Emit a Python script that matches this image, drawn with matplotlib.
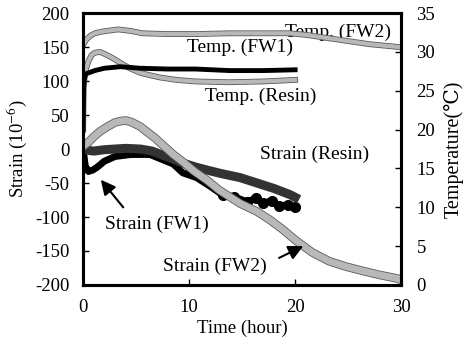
import matplotlib
matplotlib.use("Agg")
import matplotlib.pyplot as plt
import matplotlib.patheffects as pe

plt.rcParams['font.family'] = ['Liberation Serif', 'DejaVu Serif']
plt.rcParams['mathtext.fontset'] = 'stix'
plt.rcParams['axes.unicode_minus'] = False
plt.rcParams['font.size'] = 14

# temperatures (deg C) on the right axis
t_fw2_temp = [0, 0.3, 0.7, 1.1, 1.7, 2.2, 3.3, 4.5, 5.6, 8, 10.6, 13.8, 17, 19.5, 21, 22.5, 24, 25.5, 27, 28.5, 30]
fw2_temp = [30.9, 31.6, 32.1, 32.4, 32.6, 32.7, 32.9, 32.7, 32.4, 32.3, 32.3, 32.4, 32.4, 32.4, 32.2, 31.9, 31.6, 31.3, 31.0, 30.8, 30.6]

t_fw1_temp = [0, 0.05, 0.2, 0.5, 0.8, 1.1, 1.6, 2.1, 2.8, 3.5, 4.4, 5.4, 6.3, 7.3, 8.8, 10.6, 13.8, 17, 20]
fw1_temp = [20.0, 25.5, 27.5, 28.8, 29.6, 29.9, 30.0, 29.7, 29.2, 28.6, 27.9, 27.3, 27.0, 26.7, 26.4, 26.2, 26.1, 26.2, 26.4]

t_res_temp = [0, 0.05, 0.15, 0.3, 0.7, 1.1, 2, 3.5, 5.4, 8, 10.6, 13.8, 17, 20]
res_temp = [20.0, 25.5, 26.8, 27.2, 27.4, 27.6, 27.9, 28.1, 27.9, 27.8, 27.8, 27.6, 27.6, 27.7]

# strains (1e-6) on the left axis
t_fw2 = [0, 0.5, 1.0, 1.6, 2.3, 3.0, 3.5, 4.0, 4.5, 4.9, 5.4, 5.8, 6.8, 7.5, 8.5, 9.5, 10.5, 11.7, 12.8,
         14.8, 16.4, 17.6, 18.8, 20.1, 21.6, 23.2, 24.8, 26.3, 27.9, 29.8, 30]
s_fw2 = [4, 10, 18, 26, 33, 39, 41, 42, 40, 37, 33, 28, 16, 6, -8, -20, -33, -46, -60,
         -80, -92, -104, -118, -135, -152, -165, -173, -179, -185, -191, -193]

t_res = [0, 0.5, 1, 2, 3, 4, 5.4, 6.5, 7.5, 8.5, 9.5, 10.5, 11.7, 13, 14.8, 16.4, 18, 19.5, 20]
s_res = [0, -2, -3, -1, 0, 1, 0, -3, -9, -15, -21, -26, -31, -36, -42, -50, -58, -67, -71]

t_fw1 = [0, 0.2, 0.5, 0.9, 1.3, 2, 3, 4.5, 6.3, 8.5, 9.4, 10.7, 12, 13.2, 14.2, 15.5, 16.3, 17, 17.8, 18.5, 19.3, 20]
s_fw1 = [0, -25, -33, -31, -27, -18, -11, -8, -8, -22, -35, -42, -55, -68, -70, -78, -72, -80, -76, -84, -82, -86]

fig = plt.figure(figsize=(4.67, 3.54), dpi=100)
ax = fig.add_axes([0.178, 0.195, 0.681, 0.768])
ax2 = ax.twinx()


def grey_line(a, x, y, lw):
    a.plot(x, y, color='#b8b8b8', lw=lw, solid_joinstyle='round',
           path_effects=[pe.Stroke(linewidth=lw + 1.2, foreground='#5a5a5a'), pe.Normal()])


ax.plot(t_fw1, s_fw1, color='black', lw=5, solid_joinstyle='round')
ax.plot(t_fw1[13:], s_fw1[13:], 'o', color='black', ms=7)
ax.plot(t_res, s_res, color='#333333', lw=6.5, solid_joinstyle='round')
grey_line(ax, t_fw2, s_fw2, 5)

grey_line(ax2, t_fw2_temp, fw2_temp, 3)
grey_line(ax2, t_fw1_temp, fw1_temp, 3)
ax2.plot(t_res_temp, res_temp, color='black', lw=3.5)

ax.set_xlim(0, 30)
ax.set_ylim(-200, 200)
ax2.set_ylim(0, 35)
ax.set_xticks([0, 10, 20, 30])
ax.set_yticks(range(-200, 201, 50))
ax2.set_yticks(range(0, 36, 5))

ax.tick_params(axis='y', direction='in', length=4, width=1, pad=10, labelsize=13.5)
ax.tick_params(axis='x', direction='in', length=4, width=1, pad=10, labelsize=13.5)
ax2.tick_params(direction='in', length=4, width=1, pad=11, labelsize=13.5)
for a in (ax, ax2):
    for sp in a.spines.values():
        sp.set_linewidth(2.2)

ax.set_xlabel('Time (hour)', fontsize=13.5, labelpad=3)
ax.set_ylabel('Strain (10$^{-6}$)', fontsize=13.5, labelpad=4)
ax2.set_ylabel('Temperature(\u2103)', fontsize=14.5, labelpad=6)

ax.text(19.0, 171, 'Temp. (FW2)', va='center', ha='left')
ax.text(9.8, 149, 'Temp. (FW1)', va='center', ha='left')
ax.text(11.5, 77, 'Temp. (Resin)', va='center', ha='left')
ax.text(16.7, -8, 'Strain (Resin)', va='center', ha='left')
ax.text(2.07, -111, 'Strain (FW1)', va='center', ha='left')
ax.text(7.5, -172, 'Strain (FW2)', va='center', ha='left')

ax.annotate('', xy=(1.5, -42), xytext=(3.95, -89),
            arrowprops=dict(arrowstyle='-|>', color='black', lw=1.5, mutation_scale=22))
ax.annotate('', xy=(21.0, -141), xytext=(18.25, -162),
            arrowprops=dict(arrowstyle='-|>', color='black', lw=1.5, mutation_scale=22))

fig.savefig('out.png', dpi=100)
